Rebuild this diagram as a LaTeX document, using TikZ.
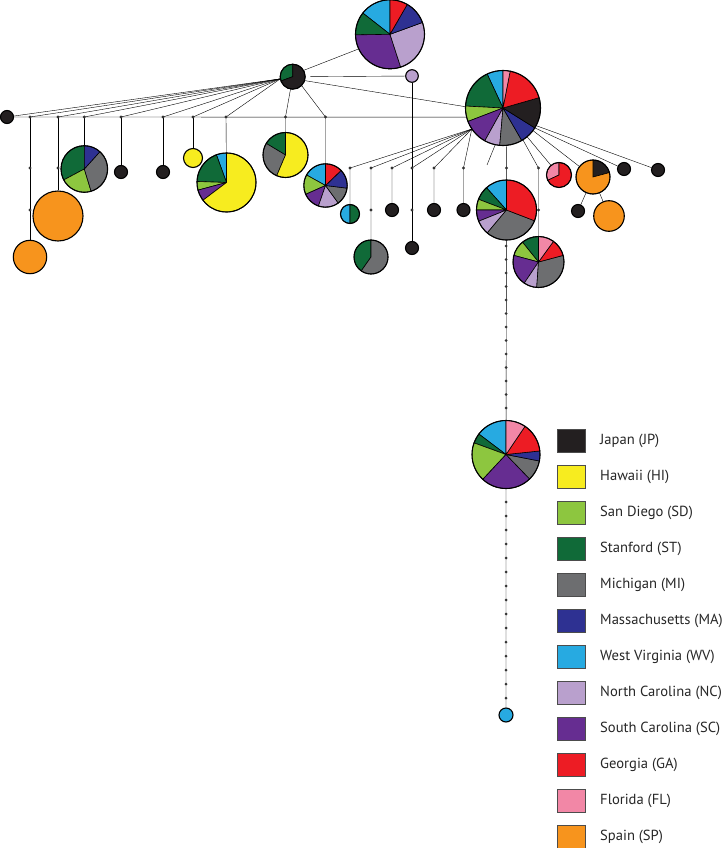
\documentclass[tikz,border=0pt]{standalone}
\usepackage{fontspec}
\setmainfont{PT Sans}
\usetikzlibrary{positioning, backgrounds}
\definecolor{jp}{RGB}{35,31,32}
\definecolor{hi}{RGB}{247,236,31}
\definecolor{sd}{RGB}{141,198,63}
\definecolor{st}{RGB}{16,106,56}
\definecolor{mi}{RGB}{109,110,112}
\definecolor{ma}{RGB}{46,49,146}
\definecolor{wv}{RGB}{39,170,225}
\definecolor{nc}{RGB}{185,160,205}
\definecolor{sc}{RGB}{102,45,145}
\definecolor{ga}{RGB}{237,28,36}
\definecolor{fl}{RGB}{242,135,166}
\definecolor{sp}{RGB}{247,148,29}

% pie chart haplotype: name, centre, radius, colour/from/to slices
\newcommand{\pienode}[4]{%
  \node[pie, minimum size=2*#3pt] (#1) at (#2) {};
  \foreach \slcol/\slfrom/\slto in {#4}{%
    \filldraw[slice, fill=\slcol] (#1.center) -- ++(\slfrom:#3pt) arc[start angle=\slfrom, end angle=\slto, radius=#3pt] -- cycle;}%
  \draw[rim] (#1.center) circle[radius=#3pt];%
}

\begin{document}
\begin{tikzpicture}[x=1pt, y=-1pt,
    pie/.style={circle, inner sep=0pt},
    slice/.style={draw=black, line width=0.6pt},
    rim/.style={line width=1.1pt},
    hap/.style={circle, draw, line width=1.1pt, inner sep=0pt, minimum size=#1},
    hap/.default=13pt,
    link/.style={line width=1.05pt, black!85},
    mut/.style={fill=black!80},
    legbox/.style={draw=black!70, line width=0.9pt, minimum width=28pt, minimum height=23pt, inner sep=0pt, outer sep=0pt},
    legtext/.style={font=\fontsize{14.6}{17}\selectfont, text=black!85, inner sep=0pt}
]
\useasboundingbox (0,0) rectangle (723,848);

% === Hub and the two big pies ===
\pienode{hub}{292.7,76.7}{12.5}{st/90/200, jp/200/450}
\pienode{tp}{390,34.3}{34.5}{wv/90/142, st/142/181, sc/181/288, nc/288/380, ma/380/420, ga/420/450}
\pienode{rp}{503,108}{37.5}{wv/90/115, st/115/177, sd/177/201, sc/201/241, nc/241/265, mi/265/300, ma/300/328, jp/328/376, ga/376/439, fl/439/450}
\node[hap=12.6pt, fill=nc] (lav) at (412,76) {};

% === Left fan ===
\node[hap, fill=jp] (lb) at (7,117) {};
\node[hap=33.4pt, fill=sp] (sp1) at (30,257) {};
\node[hap=50pt, fill=sp] (sp2) at (58,216) {};
\pienode{p84}{84.3,169}{23.3}{st/90/208, sd/208/287, mi/287/408, ma/408/450}
\node[hap, fill=jp] (b121) at (121,172) {};
\node[hap, fill=jp] (b163) at (163,172) {};
\node[hap=19pt, fill=hi] (hi1) at (193,158) {};
\pienode{p226}{226.5,182.5}{29.5}{wv/90/110, st/110/178, sd/178/195, sc/195/217, hi/217/450}
\pienode{p285}{285.5,155}{22.5}{st/90/149, mi/149/247, hi/247/450}
\pienode{p325}{325.5,185.5}{21.7}{wv/90/151, sd/151/204, sc/204/251, nc/251/306, mi/306/353, ma/353/404, ga/404/450}

% === Right fan ===
\pienode{p350}{350,214}{9.5}{wv/90/270, st/270/450}
\pienode{p371}{371,257}{17}{st/90/235, mi/235/450}
\node[hap, fill=jp] (b392) at (392,210) {};
\node[hap, fill=jp] (b412) at (412,248) {};
\node[hap, fill=jp] (b434) at (434,210) {};
\node[hap, fill=jp] (b463) at (463.5,210) {};
\pienode{m1}{506.5,210}{30}{wv/90/132, st/132/159, sd/159/180, sc/180/202, nc/202/230, mi/230/339, ga/339/450}
\pienode{p538}{538.5,262}{25.5}{st/90/129, sd/129/165, sc/165/236, nc/236/266, mi/266/375, ga/375/414, fl/414/450}
\pienode{p559}{559,175}{12.5}{fl/90/205, ga/205/450}
\pienode{p593}{593,177}{17}{jp/15/90, sp/90/375}
\node[hap, fill=jp] (b578) at (578,211) {};
\node[hap=30.6pt, fill=sp] (sp3) at (609,216) {};
\node[hap, fill=jp] (b624) at (624,169) {};
\node[hap, fill=jp] (b658) at (658,170) {};

% === Long branch ===
\pienode{m2}{506,454.5}{34}{wv/90/143, st/143/160, sd/160/227, sc/227/314, mi/314/349, ma/349/366, ga/366/416, fl/416/450}
\node[hap=14pt, fill=wv] (wv1) at (506,715) {};

% === Junctions ===
\coordinate (j30) at (30,117);
\coordinate (j58) at (58,117);
\coordinate (j84) at (84.3,117);
\coordinate (j121) at (121,117);
\coordinate (j163) at (163,117);
\coordinate (j193) at (193,117);
\coordinate (j226) at (226,117);
\coordinate (j285) at (285.5,117);
\coordinate (j325) at (325.5,117);
\coordinate (k350) at (350,168);
\coordinate (k371) at (371,168);
\coordinate (k392) at (392,168);
\coordinate (k412) at (412,168);
\coordinate (k434) at (434,168);
\coordinate (k463) at (463.5,168);
\coordinate (stub) at (487,165);
\coordinate (k506) at (506.4,168);
\coordinate (k538) at (538.5,168);

% === Connectors ===
\begin{scope}[on background layer, link]
\draw (lb) -- (rp.194);
\draw (hub.190) -- (lb);
\draw (hub.190) -- (j30);
\draw (hub.190) -- (j58);
\draw (hub.190) -- (j84);
\draw (hub.190) -- (j121);
\draw (hub.190) -- (j163);
\draw (hub.190) -- (j193);
\draw (hub.190) -- (j226);
\draw (hub.-100) -- (j285) -- (p285);
\draw (hub.-45) -- (j325) -- (p325);
\draw (hub.30) -- (tp.205);
\draw[shorten <=5pt] (hub.east) -- (lav);
\draw (hub.-18) -- (rp.178);
\draw (lav) -- (b412);
\draw (j30) -- (sp1);
\draw (j58) -- (sp2);
\draw (j84) -- (p84);
\draw (j121) -- (b121);
\draw (j163) -- (b163);
\draw (j193) -- (hi1);
\draw (j226) -- (p226);
\draw (rp.214) -- (k350) -- (p350);
\draw (rp.214) -- (k371) -- (p371);
\draw (rp.214) -- (k392) -- (b392);
\draw (rp.214) -- (k412);
\draw (rp.214) -- (k434) -- (b434);
\draw (rp.214) -- (k463) -- (b463);
\draw (rp.258) -- (stub);
\draw (rp.-85) -- (k506) -- (m1);
\draw (m1) -- (m2) -- (wv1);
\draw (rp.-58) -- (k538) -- (p538);
\draw (rp.-50) -- (p559);
\draw (rp.-37) -- (p593);
\draw (p593) -- (b578);
\draw (p593) -- (sp3);
\draw (rp.-32) -- (b624);
\draw (rp.-28) -- (b658);
\end{scope}

% === Mutation steps ===
\foreach \dx/\dy in {30/117, 58/117, 84.3/117, 121/117, 163/117, 193/117, 226/117, 285.5/117, 325.5/117,
    30/168, 30/210, 58/168, 350/168, 371/168, 392/168, 412/168, 434/168, 463.5/168, 506.4/168, 538.5/168,
    371/210, 412/210, 538.5/210}
  \fill[mut] (\dx,\dy) circle[radius=1.6pt];
\foreach \dy in {246,259.5,...,408}
  \fill[mut] (506.2,\dy) circle[radius=1.5pt];
\foreach \dy in {502,516,...,698}
  \fill[mut] (506,\dy) circle[radius=1.5pt];

% === Legend ===
\node[legbox, fill=jp] (lgjp) at (571,440.5) {};
\node[legbox, fill=hi, below=13pt of lgjp] (lghi) {};
\node[legbox, fill=sd, below=13pt of lghi] (lgsd) {};
\node[legbox, fill=st, below=13pt of lgsd] (lgst) {};
\node[legbox, fill=mi, below=13pt of lgst] (lgmi) {};
\node[legbox, fill=ma, below=13pt of lgmi] (lgma) {};
\node[legbox, fill=wv, below=13pt of lgma] (lgwv) {};
\node[legbox, fill=nc, below=13pt of lgwv] (lgnc) {};
\node[legbox, fill=sc, below=13pt of lgnc] (lgsc) {};
\node[legbox, fill=ga, below=13pt of lgsc] (lgga) {};
\node[legbox, fill=fl, below=13pt of lgga] (lgfl) {};
\node[legbox, fill=sp, below=13pt of lgfl] (lgsp) {};
\node[legtext, right=15pt of lgjp] (txjp) {Japan (JP)};
\node[legtext, right=15pt of lghi] (txhi) {Hawaii (HI)};
\node[legtext, right=15pt of lgsd] (txsd) {San Diego (SD)};
\node[legtext, right=15pt of lgst] (txst) {Stanford (ST)};
\node[legtext, right=15pt of lgmi] (txmi) {Michigan (MI)};
\node[legtext, right=15pt of lgma] (txma) {Massachusetts (MA)};
\node[legtext, right=15pt of lgwv] (txwv) {West Virginia (WV)};
\node[legtext, right=15pt of lgnc] (txnc) {North Carolina (NC)};
\node[legtext, right=15pt of lgsc] (txsc) {South Carolina (SC)};
\node[legtext, right=15pt of lgga] (txga) {Georgia (GA)};
\node[legtext, right=15pt of lgfl] (txfl) {Florida (FL)};
\node[legtext, right=15pt of lgsp] (txsp) {Spain (SP)};
\end{tikzpicture}
\end{document}
